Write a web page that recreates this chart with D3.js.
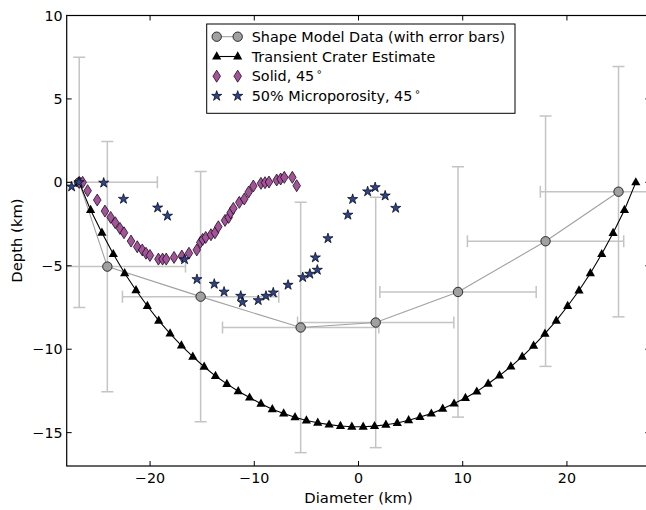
<!DOCTYPE html>
<html>
<head>
<meta charset="utf-8">
<script src="https://cdn.jsdelivr.net/npm/d3@7"></script>
<style>
  html, body { margin: 0; padding: 0; background: #fff; }
  svg { display: block; }
  text { font-family: "DejaVu Sans", sans-serif; fill: #000; }
</style>
</head>
<body>
<svg id="chart" width="646" height="510"></svg>
<script>
// Shape model profile (km) with symmetric error bars
const shapeX = [-26.8, -24.1, -15.15, -5.55, 1.65, 9.55, 17.95, 24.95];
const shapeY = [0.0, -5.05, -6.85, -8.7, -8.4, -6.57, -3.53, -0.56];
const shapeXErr = [7.5, 7.5, 7.5, 7.5, 7.5, 7.5, 7.5, 7.5];
const shapeYErr = [7.5, 7.5, 7.5, 7.5, 7.5, 7.5, 7.5, 7.5];

// Transient crater estimate
const transientX = [-26.8, -25.71, -24.62, -23.53, -22.44, -21.35, -20.26, -19.17, -18.08, -16.99,
  -15.9, -14.81, -13.72, -12.63, -11.54, -10.45, -9.36, -8.27, -7.18, -6.09,
  -5.0, -3.91, -2.82, -1.73, -0.64, 0.45, 1.54, 2.63, 3.72, 4.81,
  5.9, 6.99, 8.08, 9.17, 10.26, 11.35, 12.44, 13.53, 14.62, 15.71,
  16.8, 17.89, 18.98, 20.07, 21.16, 22.25, 23.34, 24.43, 25.52, 26.61];
const transientY = [0.0, -1.66, -3.02, -4.3, -5.45, -6.47, -7.41, -8.29, -9.06, -9.78,
  -10.45, -11.05, -11.61, -12.08, -12.52, -12.9, -13.27, -13.6, -13.85, -14.08,
  -14.27, -14.41, -14.52, -14.6, -14.65, -14.65, -14.61, -14.53, -14.42, -14.26,
  -14.06, -13.86, -13.57, -13.26, -12.92, -12.54, -12.07, -11.58, -11.04, -10.45,
  -9.79, -9.07, -8.29, -7.41, -6.48, -5.45, -4.3, -3.04, -1.66, 0.0];

// Solid target, 45 degree impact
const solidX = [-26.8, -26.47, -25.99, -25.07, -24.33, -23.78, -23.34, -22.89, -22.5, -21.83,
  -21.23, -20.75, -20.39, -20.01, -19.2, -18.8, -18.45, -17.7, -16.95, -16.27,
  -15.52, -15.18, -14.95, -14.66, -14.16, -13.77, -13.45, -12.81, -12.46, -12.27,
  -12.01, -11.44, -10.96, -10.54, -10.09, -9.36, -8.97, -8.59, -7.85, -7.47,
  -7.12, -6.35, -5.93];
const solidY = [0.0, 0.0, -0.5, -1.06, -1.72, -2.1, -2.42, -2.76, -3.02, -3.52,
  -3.86, -4.05, -4.25, -4.38, -4.6, -4.6, -4.6, -4.5, -4.42, -4.25,
  -4.05, -3.6, -3.42, -3.3, -3.14, -3.02, -2.66, -2.28, -2.1, -1.82,
  -1.56, -1.2, -1.0, -0.58, -0.22, -0.06, -0.02, 0.02, 0.14, 0.2,
  0.3, 0.3, -0.2];

// 50% microporosity target, 45 degree impact
const porousX = [-27.53, -26.82, -24.45, -22.55, -19.27, -18.33, -16.69, -15.5, -13.84, -12.9,
  -11.3, -11.13, -9.62, -8.88, -8.18, -6.76, -5.35, -4.67, -3.95, -4.14,
  -2.93, -1.02, -0.56, 0.88, 1.6, 2.56, 3.57];
const porousY = [-0.26, 0.0, -0.03, -1.0, -1.52, -2.01, -4.62, -5.81, -6.09, -6.56,
  -6.81, -7.19, -7.07, -6.81, -6.61, -6.15, -5.69, -5.49, -5.25, -4.51,
  -3.36, -1.95, -1.01, -0.55, -0.3, -0.8, -1.54];

const xTicks = [-20, -10, 0, 10, 20];
const yTicks = [-15, -10, -5, 0, 5, 10];
const legendLabels = ["Shape Model Data (with error bars)", "Transient Crater Estimate", "Solid, 45", "50% Microporosity, 45"];

const zip = (xs, ys) => xs.map((x, i) => ({x, y: ys[i]}));
const shape = shapeX.map((x, i) => ({x, y: shapeY[i], ex: shapeXErr[i], ey: shapeYErr[i]}));
const transient = zip(transientX, transientY);
const solid = zip(solidX, solidY);
const porous = zip(porousX, porousY);

const svg = d3.select("#chart");
const pLeft = 66.7, pRight = 650.3, pTop = 15.5, pBottom = 466;
const x = d3.scaleLinear().domain([-28, 28]).range([pLeft, pRight]);
const y = d3.scaleLinear().domain([-17, 10]).range([pBottom, pTop]);

const plot = svg.append("g");
svg.append("clipPath").attr("id", "plotclip")
  .append("rect").attr("x", pLeft).attr("y", pTop).attr("width", pRight - pLeft).attr("height", pBottom - pTop);
const inner = plot.append("g").attr("clip-path", "url(#plotclip)");

// marker shapes
const triPath = "M0,-5.2L4.6,3L-4.6,3Z";
const diaPath = "M0,-6L3.8,0L0,6L-3.8,0Z";
const starPath = d3.symbol(d3.symbolStar, 32)();
const ERR = "#c4c4c4", CAP = 6;

// error bars
const eb = inner.append("g").attr("stroke", ERR).attr("stroke-width", 1.5).attr("fill", "none");
shape.forEach(d => {
  const cx = x(d.x), cy = y(d.y);
  const x0 = x(d.x - d.ex), x1 = x(d.x + d.ex), y0 = y(d.y - d.ey), y1 = y(d.y + d.ey);
  eb.append("line").attr("x1", x0).attr("x2", x1).attr("y1", cy).attr("y2", cy);
  eb.append("line").attr("x1", cx).attr("x2", cx).attr("y1", y0).attr("y2", y1);
  [x0, x1].forEach(px => eb.append("line").attr("x1", px).attr("x2", px).attr("y1", cy - CAP).attr("y2", cy + CAP));
  [y0, y1].forEach(py => eb.append("line").attr("x1", cx - CAP).attr("x2", cx + CAP).attr("y1", py).attr("y2", py));
});

const line = d3.line().x(d => x(d.x)).y(d => y(d.y));

// shape model line + circles
inner.append("path").datum(shape).attr("d", line)
  .attr("fill", "none").attr("stroke", "#a0a0a0").attr("stroke-width", 1.1);
inner.selectAll("circle.shape").data(shape).join("circle")
  .attr("cx", d => x(d.x)).attr("cy", d => y(d.y)).attr("r", 4.7)
  .attr("fill", "#a0a0a0").attr("stroke", "#1a1a1a").attr("stroke-width", 0.9);

// transient crater line + triangles
inner.append("path").datum(transient).attr("d", line)
  .attr("fill", "none").attr("stroke", "#000").attr("stroke-width", 1.1);
inner.selectAll("path.tri").data(transient).join("path").attr("class", "tri")
  .attr("transform", d => `translate(${x(d.x)},${y(d.y)})`).attr("d", triPath).attr("fill", "#000");

// solid target diamonds
inner.selectAll("path.dia").data(solid).join("path").attr("class", "dia")
  .attr("transform", d => `translate(${x(d.x)},${y(d.y)})`).attr("d", diaPath)
  .attr("fill", "#a5519c").attr("stroke", "#000").attr("stroke-width", 0.7);

// porous target stars
inner.selectAll("path.star").data(porous).join("path").attr("class", "star")
  .attr("transform", d => `translate(${x(d.x)},${y(d.y)})`).attr("d", starPath)
  .attr("fill", "#2a4494").attr("stroke", "#000").attr("stroke-width", 0.7);

// frame
plot.append("rect").attr("x", pLeft).attr("y", pTop).attr("width", pRight - pLeft).attr("height", pBottom - pTop)
  .attr("fill", "none").attr("stroke", "#000").attr("stroke-width", 1.2);

// ticks (inward on all four sides)
const TL = 5;
const tk = plot.append("g").attr("stroke", "#000").attr("stroke-width", 1);
xTicks.forEach(v => {
  tk.append("line").attr("x1", x(v)).attr("x2", x(v)).attr("y1", pBottom).attr("y2", pBottom - TL);
  tk.append("line").attr("x1", x(v)).attr("x2", x(v)).attr("y1", pTop).attr("y2", pTop + TL);
});
yTicks.forEach(v => {
  tk.append("line").attr("x1", pLeft).attr("x2", pLeft + TL).attr("y1", y(v)).attr("y2", y(v));
  tk.append("line").attr("x1", pRight).attr("x2", pRight - TL).attr("y1", y(v)).attr("y2", y(v));
});

const fmt = v => (v < 0 ? "\u2212" + Math.abs(v) : String(v));
plot.selectAll("text.xt").data(xTicks).join("text")
  .attr("x", d => x(d)).attr("y", pBottom + 17).attr("text-anchor", "middle")
  .style("font-size", "14.3px").text(fmt);
plot.selectAll("text.yt").data(yTicks).join("text")
  .attr("x", pLeft - 4).attr("y", d => y(d) + 5).attr("text-anchor", "end")
  .style("font-size", "14.3px").text(fmt);

svg.append("text").attr("x", 358.5).attr("y", 503).attr("text-anchor", "middle")
  .style("font-size", "14.8px").text("Diameter (km)");
svg.append("text").attr("transform", "translate(22,240.5) rotate(-90)").attr("text-anchor", "middle")
  .style("font-size", "14.8px").text("Depth (km)");

// legend
const lg = svg.append("g");
lg.append("rect").attr("x", 206.7).attr("y", 24).attr("width", 308.3).attr("height", 89.3)
  .attr("fill", "#fff").attr("stroke", "#000").attr("stroke-width", 1);
const rowsY = [36.7, 56.5, 76.2, 96];
const mx0 = 216.7, mx1 = 237.7, tx = 251.7;
lg.append("line").attr("x1", mx0).attr("x2", mx1).attr("y1", rowsY[0]).attr("y2", rowsY[0]).attr("stroke", "#a0a0a0").attr("stroke-width", 1.1);
[mx0, mx1].forEach(px => lg.append("circle").attr("cx", px).attr("cy", rowsY[0]).attr("r", 4.7)
  .attr("fill", "#a0a0a0").attr("stroke", "#1a1a1a").attr("stroke-width", 0.9));
lg.append("line").attr("x1", mx0).attr("x2", mx1).attr("y1", rowsY[1]).attr("y2", rowsY[1]).attr("stroke", "#000").attr("stroke-width", 1.1);
[mx0, mx1].forEach(px => lg.append("path").attr("transform", `translate(${px},${rowsY[1]})`).attr("d", triPath).attr("fill", "#000"));
[mx0, mx1].forEach(px => lg.append("path").attr("transform", `translate(${px},${rowsY[2]})`).attr("d", diaPath)
  .attr("fill", "#a5519c").attr("stroke", "#000").attr("stroke-width", 0.7));
[mx0, mx1].forEach(px => lg.append("path").attr("transform", `translate(${px},${rowsY[3]})`).attr("d", starPath)
  .attr("fill", "#2a4494").attr("stroke", "#000").attr("stroke-width", 0.7));
legendLabels.forEach((t, i) => {
  const el = lg.append("text").attr("x", tx).attr("y", rowsY[i] + 5).style("font-size", "14.4px").text(t);
  if (i >= 2) el.append("tspan").attr("dy", -6).attr("dx", 2).style("font-size", "10px").text("\u2218");
});
</script>
</body>
</html>
